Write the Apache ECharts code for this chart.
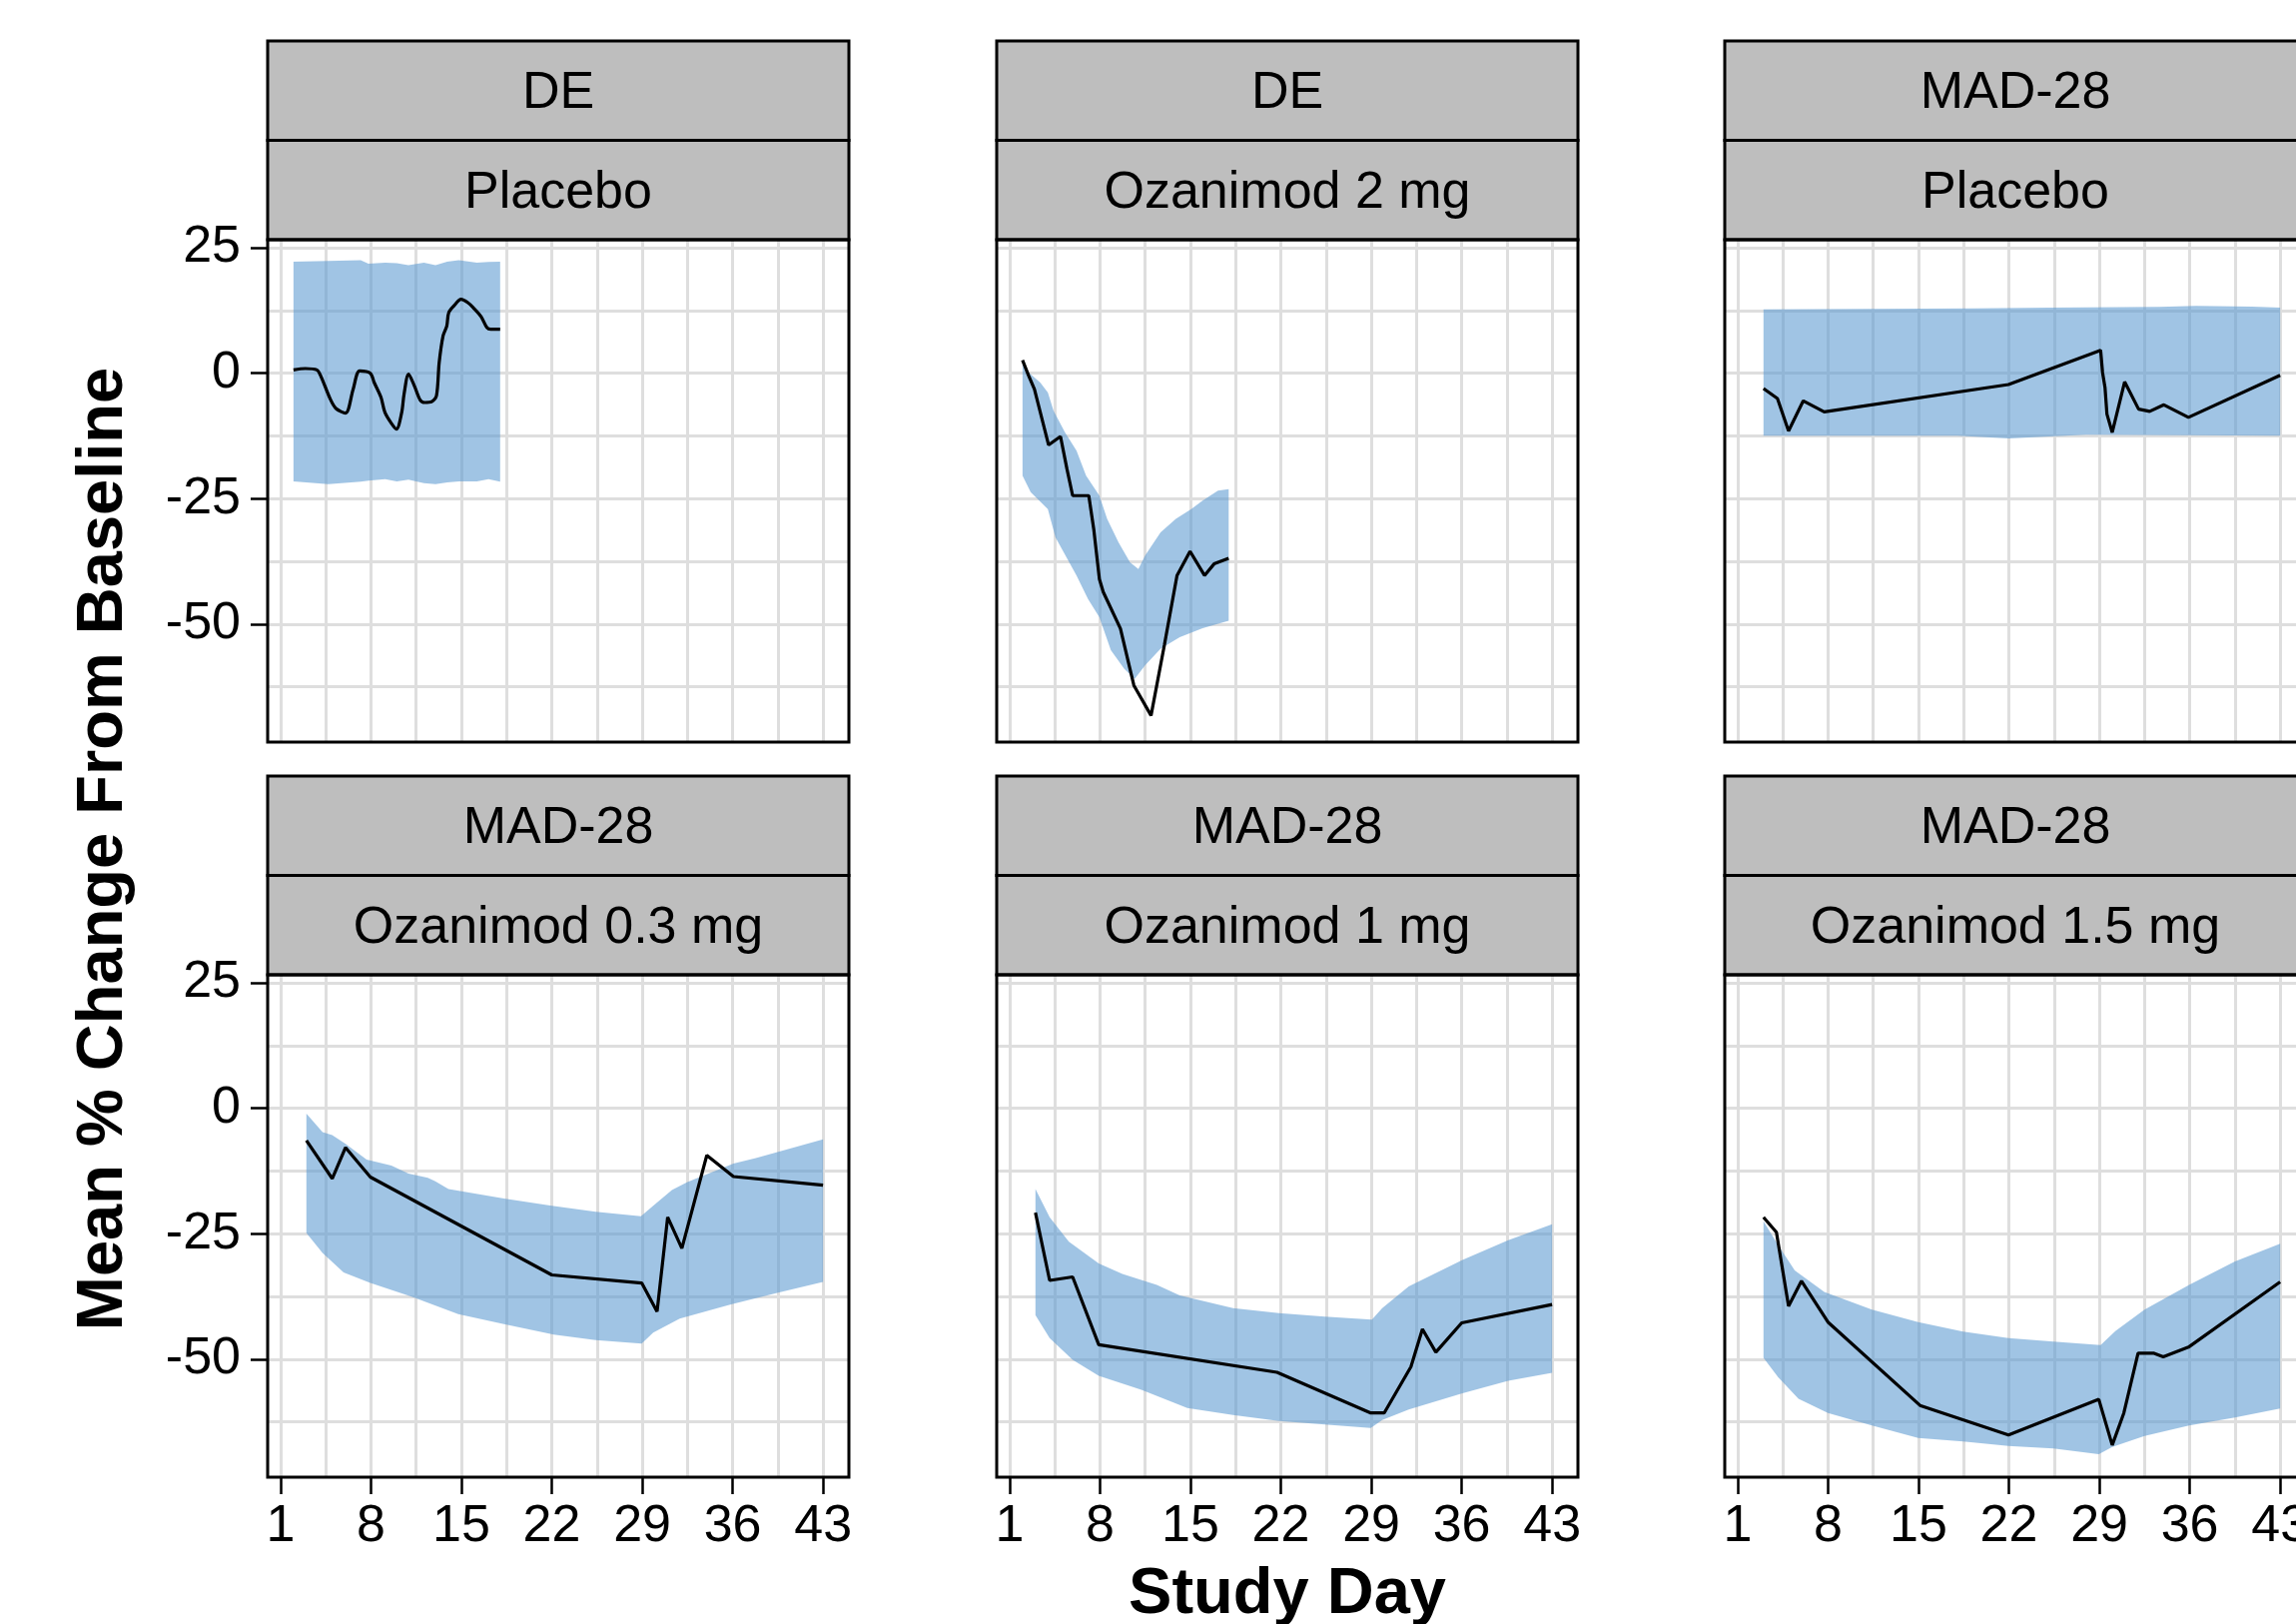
<!DOCTYPE html>
<html><head><meta charset="utf-8">
<script src="https://cdn.jsdelivr.net/npm/echarts@6/dist/echarts.min.js"></script>
<style>html,body{margin:0;padding:0;background:#fff}#c{width:2299px;height:1626px}</style>
</head><body><div id="c"></div>
<script>
// ---- data ----
const studies = ['DE', 'DE', 'MAD-28', 'MAD-28', 'MAD-28', 'MAD-28'];
const treatments = ['Placebo', 'Ozanimod 2 mg', 'Placebo', 'Ozanimod 0.3 mg', 'Ozanimod 1 mg', 'Ozanimod 1.5 mg'];
const xTicks = [1, 8, 15, 22, 29, 36, 43];
const xGridVals = [1, 4.5, 8, 11.5, 15, 18.5, 22, 25.5, 29, 32.5, 36, 39.5, 43];
const yTicks = [25, 0, -25, -50];
const yGridVals = [25, 12.5, 0, -12.5, -25, -37.5, -50, -62.5];

const p1Mean = [[2,0.66],[2.92,0.93],[3.81,0.66],[4.11,-0.53],[4.85,-5.17],[5.29,-7.03],[6.03,-7.96],[6.62,-3.18],[7.12,0.46],[7.95,0],[8.25,-1.86],[8.78,-4.84],[9.08,-7.82],[9.58,-10.0],[9.97,-11.14],[10.38,-7.82],[10.56,-4.18],[10.91,-0.2],[11.36,-2.52],[11.8,-5.3],[12.16,-5.84],[12.69,-5.7],[13.07,-4.5],[13.28,2.12],[13.58,7.43],[13.87,9.42],[14.02,12.07],[14.46,13.53],[14.97,14.72],[15.5,14.06],[15.94,13.0],[16.53,11.27],[16.98,9.08],[17.27,8.75],[18,8.75]];
const p1Upper = [[2,22.2],[4.7,22.35],[7.2,22.5],[7.8,21.8],[9.1,22.0],[10.0,21.9],[10.9,21.55],[12.1,22.0],[13.0,21.55],[13.9,22.2],[14.8,22.5],[16.2,22.0],[17.1,22.15],[18,22.2]];
const p1Lower = [[2,-21.55],[4.7,-22.1],[7.2,-21.6],[7.8,-21.4],[9.1,-21.1],[10.0,-21.55],[10.9,-21.2],[12.1,-21.9],[13.0,-22.1],[13.9,-21.75],[14.8,-21.55],[16.2,-21.55],[17.1,-21.1],[18,-21.6]];

const p2Mean = [[2,2.59],[2.48,-0.53],[2.92,-3.18],[4.02,-14.3],[4.94,-12.6],[5.44,-19.1],[5.88,-24.4],[7.13,-24.4],[7.51,-31.0],[7.95,-41.0],[8.25,-43.6],[9.58,-50.9],[10.62,-62.2],[11.95,-68.2],[12.98,-54.2],[13.96,-40.3],[14.97,-35.5],[16.09,-40.3],[16.83,-38.0],[17.96,-36.9]];
const p2Upper = [[2,2.3],[2.48,0.13],[3.37,-1.86],[3.96,-3.85],[4.4,-7.5],[5.29,-11.8],[6.18,-15.45],[6.92,-20.4],[7.95,-24.4],[8.55,-29.0],[9.43,-33.7],[10.32,-37.7],[10.97,-39.0],[11.5,-36.3],[12.69,-31.7],[13.87,-29.0],[15.06,-27.1],[15.94,-25.4],[17.13,-23.4],[17.96,-23.1]];
const p2Lower = [[2,-20.4],[2.63,-23.7],[3.96,-27.1],[4.55,-32.7],[6.18,-40.3],[7.07,-45.0],[7.95,-48.6],[8.84,-55.2],[9.88,-58.9],[10.68,-60.9],[11.5,-58.2],[12.69,-54.9],[14.17,-52.6],[15.94,-50.8],[17.96,-49.3]];

const p3Mean = [[3,-3.05],[4.08,-5.04],[4.94,-11.5],[6.08,-5.5],[7.7,-7.7],[21.97,-2.25],[29.1,4.58],[29.25,0.13],[29.44,-2.85],[29.59,-8.16],[30.0,-11.8],[30.96,-1.72],[32.04,-7.16],[32.9,-7.6],[34.0,-6.3],[35.9,-8.8],[43,-0.4]];
const p3Upper = [[3,12.73],[19.4,12.93],[25.1,13.06],[33.67,13.2],[36.5,13.4],[40.8,13.26],[43,13.06]];
const p3Lower = [[3,-12.47],[18.0,-12.47],[22.0,-13.0],[25.1,-12.6],[27.96,-12.27],[43,-12.47]];

const p4Mean = [[3,-6.39],[5.0,-14.0],[6.03,-7.81],[7.95,-13.7],[22.0,-33.2],[28.96,-34.8],[30.15,-40.5],[30.97,-21.7],[32.07,-27.9],[34.0,-9.37],[36.06,-13.6],[43,-15.3]];
const p4Upper = [[3,-1.07],[4.25,-4.76],[5.0,-5.33],[6.03,-7.1],[7.66,-10.2],[9.58,-11.4],[10.9,-13.0],[12.4,-13.85],[12.98,-14.56],[14.0,-16.1],[18.3,-18.0],[22.0,-19.4],[25.4,-20.6],[28.9,-21.5],[29.85,-19.4],[31.3,-16.3],[32.5,-14.7],[36.06,-11.0],[37.8,-9.94],[43,-6.18]];
const p4Lower = [[3,-24.86],[4.25,-28.8],[5.88,-32.7],[7.95,-34.8],[11.2,-37.6],[14.76,-41.0],[18.3,-43.0],[22.16,-45.1],[25.4,-46.2],[28.96,-46.9],[29.85,-44.7],[31.9,-41.9],[35.8,-39.1],[39.6,-36.7],[43,-34.6]];

const p5Mean = [[3,-20.8],[4.1,-34.3],[5.88,-33.6],[7.9,-47.1],[21.7,-52.6],[28.96,-60.7],[30.0,-60.7],[32.07,-51.5],[32.96,-44.0],[34.0,-48.6],[36.0,-42.75],[43,-39.1]];
const p5Upper = [[3,-16.1],[4.1,-21.7],[5.59,-26.6],[7.9,-30.9],[9.73,-33.0],[12.4,-35.2],[14.17,-37.3],[18.3,-39.8],[21.86,-40.8],[25.4,-41.5],[29.05,-42.1],[29.85,-39.8],[31.9,-35.5],[36.06,-30.2],[39.6,-26.3],[43,-23.1]];
const p5Lower = [[3,-41.2],[4.1,-45.8],[5.88,-50.1],[7.9,-53.3],[11.2,-56.1],[14.76,-59.7],[18.3,-61.1],[21.86,-62.3],[25.4,-63.0],[28.96,-63.7],[29.85,-62.1],[31.9,-60.0],[36.06,-56.8],[39.6,-54.3],[43,-52.7]];

const p6Mean = [[3,-21.7],[4.0,-24.7],[4.94,-39.4],[5.94,-34.4],[7.99,-42.6],[15.12,-59.2],[21.97,-65.1],[28.96,-58.0],[30.0,-67.1],[30.9,-60.7],[32.0,-48.8],[33.24,-48.8],[33.95,-49.5],[35.9,-47.6],[43,-34.6]];
const p6Upper = [[3,-22.5],[4.14,-27.3],[5.42,-32.3],[7.7,-36.6],[11.4,-40.1],[14.98,-42.6],[18.46,-44.5],[21.97,-45.8],[25.45,-46.5],[29.1,-47.2],[30.24,-44.4],[32.5,-40.1],[35.95,-35.2],[39.5,-30.5],[43,-27.0]];
const p6Lower = [[3,-49.7],[4.14,-53.6],[5.71,-57.9],[7.99,-60.7],[11.4,-63.2],[14.98,-65.7],[18.46,-66.4],[21.97,-67.3],[25.45,-67.8],[28.96,-68.9],[30.0,-67.5],[32.5,-65.3],[35.95,-63.2],[39.5,-61.6],[43,-59.8]];

const means = [p1Mean, p2Mean, p3Mean, p4Mean, p5Mean, p6Mean];
const uppers = [p1Upper, p2Upper, p3Upper, p4Upper, p5Upper, p6Upper];
const lowers = [p1Lower, p2Lower, p3Lower, p4Lower, p5Lower, p6Lower];

// ---- layout ----
const FONT = '"Liberation Sans", Arial, Helvetica, sans-serif';
const colLeft = [268, 998, 1727], rowTop = [240, 976], W = 582, H = 503, S = 99.5;
const X_MIN = 0, X_MAX = 45, Y_MIN = -73.5, Y_MAX = 26.6;
const BAND = 'rgba(91,153,208,0.58)';

const grids = [], xAxes = [], yAxes = [], series = [], graphics = [];
for (let i = 0; i < 6; i++) {
  const r = Math.floor(i / 3), c = i % 3;
  const L = colLeft[c], T = rowTop[r];
  grids.push({ left: L, top: T, width: W, height: H, show: true, backgroundColor: '#fff', borderWidth: 0,
    containLabel: false, outerBoundsMode: 'none' });
  xAxes.push({ type: 'value', gridIndex: i, min: X_MIN, max: X_MAX, position: 'top',
    axisLine: { show: false, onZero: false }, axisTick: { show: false, customValues: xGridVals },
    axisLabel: { show: false, customValues: xGridVals },
    splitLine: { show: true, lineStyle: { color: '#DEDEDE', width: 3 } } });
  xAxes.push({ type: 'value', gridIndex: i, min: X_MIN, max: X_MAX, position: 'bottom',
    axisLine: { show: false, onZero: false },
    axisTick: { show: r === 1, length: 17, customValues: xTicks, lineStyle: { color: '#000', width: 2.5 } },
    axisLabel: { show: r === 1, customValues: xTicks, fontSize: 52, color: '#000', fontFamily: FONT, margin: 24,
      hideOverlap: false },
    splitLine: { show: false } });
  yAxes.push({ type: 'value', gridIndex: i, min: Y_MIN, max: Y_MAX, position: 'right',
    axisLine: { show: false, onZero: false }, axisTick: { show: false, customValues: yGridVals },
    axisLabel: { show: false, customValues: yGridVals },
    splitLine: { show: true, lineStyle: { color: '#DEDEDE', width: 3 } } });
  yAxes.push({ type: 'value', gridIndex: i, min: Y_MIN, max: Y_MAX, position: 'left',
    axisLine: { show: false, onZero: false },
    axisTick: { show: c === 0, length: 17, customValues: yTicks, lineStyle: { color: '#000', width: 2.5 } },
    axisLabel: { show: c === 0, customValues: yTicks, fontSize: 52, color: '#000', fontFamily: FONT, margin: 27 },
    splitLine: { show: false } });

  const up = uppers[i], lo = lowers[i];
  const poly = up.concat(lo.slice().reverse());
  series.push({
    type: 'custom', xAxisIndex: 2 * i + 1, yAxisIndex: 2 * i + 1, silent: true, z: 2,
    data: [poly[0]],
    renderItem: function (params, api) {
      const pts = poly.map(function (p) { return api.coord(p); });
      return { type: 'polygon', shape: { points: pts }, style: { fill: BAND } };
    }
  });
  series.push({
    type: 'line', xAxisIndex: 2 * i + 1, yAxisIndex: 2 * i + 1, data: means[i],
    symbol: 'none', smooth: i === 0 ? 0.3 : false, silent: true, z: 3,
    lineStyle: { color: '#000', width: 3.2 }
  });

  // strips
  graphics.push({ type: 'rect', z: 50, shape: { x: L, y: T - 2 * S, width: W, height: S },
    style: { fill: '#BEBEBE', stroke: '#000', lineWidth: 3 } });
  graphics.push({ type: 'rect', z: 50, shape: { x: L, y: T - S, width: W, height: S },
    style: { fill: '#BEBEBE', stroke: '#000', lineWidth: 3 } });
  graphics.push({ type: 'text', z: 51, x: L + W / 2, y: T - 1.5 * S + 3,
    style: { text: studies[i], align: 'center', verticalAlign: 'middle', font: '52px ' + FONT, fill: '#000' } });
  graphics.push({ type: 'text', z: 51, x: L + W / 2, y: T - 0.5 * S + 3,
    style: { text: treatments[i], align: 'center', verticalAlign: 'middle', font: '52px ' + FONT, fill: '#000' } });
  // panel border
  graphics.push({ type: 'rect', z: 60, shape: { x: L, y: T, width: W, height: H },
    style: { fill: 'none', stroke: '#000', lineWidth: 3 } });
}
graphics.push({ type: 'text', z: 51, x: 104, y: 850, rotation: Math.PI / 2,
  style: { text: 'Mean % Change From Baseline', align: 'center', verticalAlign: 'middle', font: 'bold 65px ' + FONT, fill: '#000' } });
graphics.push({ type: 'text', z: 51, x: 1289, y: 1597,
  style: { text: 'Study Day', align: 'center', verticalAlign: 'middle', font: 'bold 65px ' + FONT, fill: '#000' } });

const chart = echarts.init(document.getElementById('c'), null, { renderer: 'canvas' });
chart.setOption({
  animation: false,
  backgroundColor: '#fff',
  grid: grids, xAxis: xAxes, yAxis: yAxes, series: series,
  graphic: { elements: graphics }
});
</script></body></html>
